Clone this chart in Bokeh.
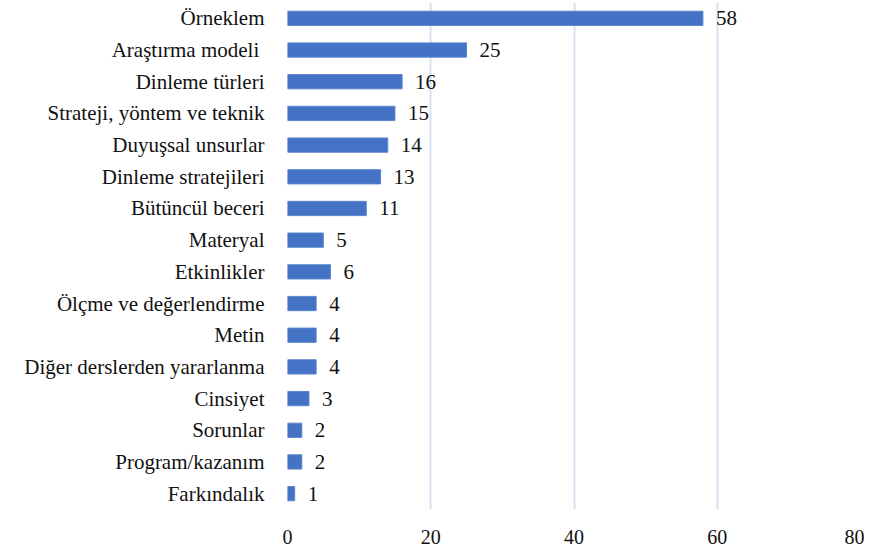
from bokeh.plotting import figure
from bokeh.models import ColumnDataSource, FactorRange, LabelSet
from bokeh.core.properties import value
from bokeh.embed import file_html
from bokeh.resources import INLINE

categories = ["Örneklem", "Araştırma  modeli", "Dinleme türleri", "Strateji, yöntem ve teknik",
              "Duyuşsal unsurlar", "Dinleme stratejileri", "Bütüncül beceri", "Materyal",
              "Etkinlikler", "Ölçme ve değerlendirme", "Metin", "Diğer derslerden yararlanma",
              "Cinsiyet", "Sorunlar", "Program/kazanım", "Farkındalık"]
values = [58, 25, 16, 15, 14, 13, 11, 5, 6, 4, 4, 4, 3, 2, 2, 1]
x_ticks = [0, 20, 40, 60, 80]

FONT = "Liberation Serif"

src = ColumnDataSource(dict(cat=categories, val=values, lab=[str(v) for v in values]))

p = figure(width=864, height=550, y_range=FactorRange(*categories[::-1]), x_range=(0, 80),
           output_backend="svg", toolbar_location=None,
           min_border_left=287, min_border_right=4, min_border_top=2, min_border_bottom=41)
p.outline_line_color = None
p.background_fill_color = "white"
p.border_fill_color = "white"

p.hbar(y="cat", right="val", left=0, height=0.45, source=src,
       fill_color="#4472C4", line_color="#5a86cc", line_width=1)

labels = LabelSet(x="val", y="cat", text="lab", source=src, x_offset=13, y_offset=0,
                  text_font=value(FONT), text_font_size=value("21px"), text_color="#111111",
                  text_baseline="middle", text_align="left")
p.add_layout(labels)

p.xaxis.ticker = x_ticks
p.xaxis.axis_line_color = None
p.xaxis.major_tick_line_color = None
p.xaxis.minor_tick_line_color = None
p.xaxis.major_label_text_font = FONT
p.xaxis.major_label_text_font_size = "20px"
p.xaxis.major_label_text_color = "#111111"
p.xaxis.major_label_standoff = 14

p.yaxis.axis_line_color = None
p.yaxis.major_tick_line_color = None
p.yaxis.minor_tick_line_color = None
p.yaxis.major_label_text_font = FONT
p.yaxis.major_label_text_font_size = "21px"
p.yaxis.major_label_text_color = "#111111"
p.yaxis.major_label_standoff = 17

p.ygrid.grid_line_color = None
p.xgrid.grid_line_color = "#D6E1F2"
p.xgrid.grid_line_width = 2

open("out.html", "w").write(file_html(p, INLINE))
